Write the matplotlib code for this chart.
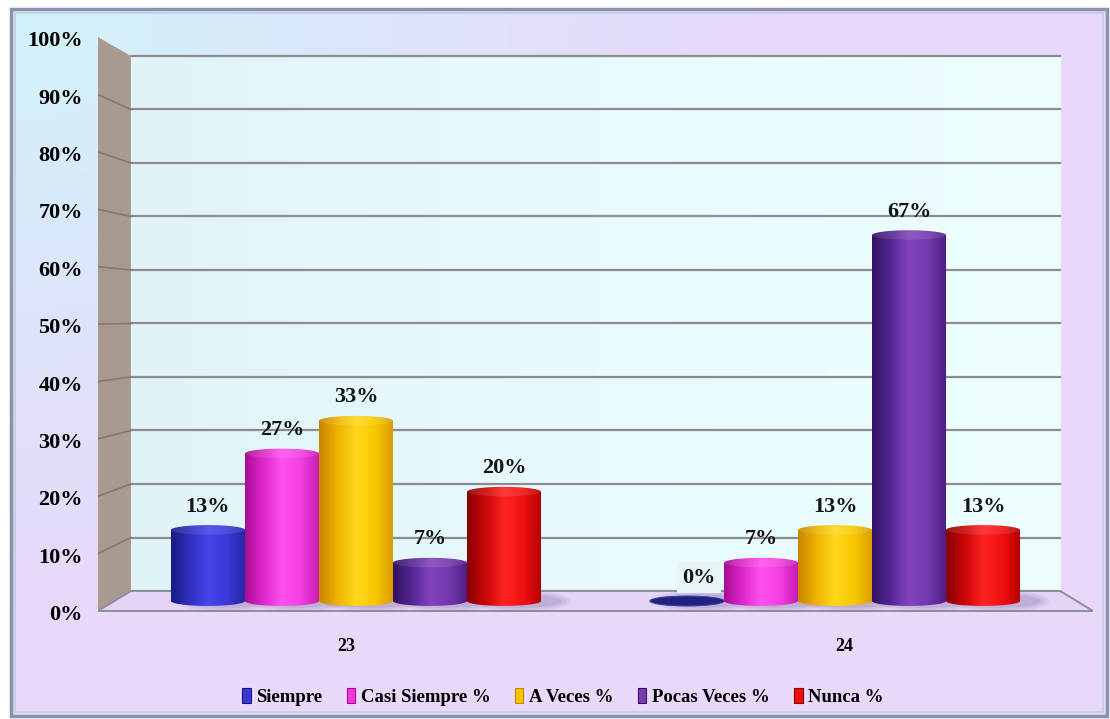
import numpy as np
import matplotlib.pyplot as plt
from matplotlib.colors import LinearSegmentedColormap, to_rgb
from matplotlib.patches import Polygon, Rectangle, Ellipse, PathPatch, Patch
from matplotlib.path import Path

plt.rcParams['font.family'] = ['Liberation Serif', 'DejaVu Serif']

categories = ['23', '24']
series = ['Siempre', 'Casi Siempre %', 'A Veces %', 'Pocas Veces %', 'Nunca %']
values = [
    [13, 0],    # Siempre
    [27, 7],    # Casi Siempre %
    [33, 13],   # A Veces %
    [7, 67],    # Pocas Veces %
    [20, 13],   # Nunca %
]
yticks = list(range(0, 101, 10))

# sombreado de cada cilindro, de izquierda a derecha
shades = [
    ['#1a1a86', '#2f2fbf', '#4545ea', '#3a3ad8', '#2525a4'],
    ['#a80c94', '#e028cc', '#ff52ee', '#f43ee2', '#c41aae'],
    ['#c98400', '#eeb400', '#ffd81c', '#f8c800', '#d99c00'],
    ['#341262', '#542692', '#8244bc', '#7438ac', '#4c1c82'],
    ['#880000', '#cc0606', '#ff2222', '#f21010', '#b20000'],
]
legend_fc = ['#3a3ad0', '#ee3ada', '#f4c800', '#7a3ab0', '#ee1010']

W, H = 1110, 719
fig = plt.figure(figsize=(W / 100, H / 100), dpi=100)
fig.patch.set_facecolor('white')

# fondo con degradado
bg = fig.add_axes([0, 0, 1, 1], zorder=-10)
bg.set_xlim(0, W)
bg.set_ylim(H, 0)
bg.axis('off')
yy, xx = np.mgrid[0:1:200j, 0:1:300j]
d = np.clip(np.sqrt((xx / 0.7) ** 2 + (yy / 0.85) ** 2), 0, 1)
c0 = np.array(to_rgb('#d0f4fb'))
c1 = np.array(to_rgb('#e8d8fa'))
img = c0 * (1 - d[..., None] ** 0.9) + c1 * d[..., None] ** 0.9
bg.imshow(img, extent=[11, 1107, 716, 9], aspect='auto', zorder=0)
bg.add_patch(Rectangle((11, 9), 1096, 707, fill=False, ec='#8a92b0', lw=2.5, zorder=2))
bg.add_patch(Rectangle((15, 13), 1088, 699, fill=False, ec='#c4cce4', lw=1.2, zorder=2))

ax = fig.add_axes([98 / W, 1 - 620 / H, 995 / W, 590 / H])
ax.set_facecolor('none')
for s in ax.spines.values():
    s.set_visible(False)

# geometria de la caja 3D (pared lateral, pared del fondo, piso)
ub0, ub1 = -0.47, 1.47
uf0, uf1 = -0.5386, 1.5386


def back(v):
    return 1.83 + 0.98 * v


def front(v):
    return -1.83 + 1.051 * v


# pared del fondo
wall = np.linspace(0, 1, 256).reshape(1, -1)
wall_cmap = LinearSegmentedColormap.from_list('wall', ['#e0f4f8', '#e8fafd', '#eefeff'])
ax.imshow(wall, cmap=wall_cmap, extent=[ub0, ub1, back(0), back(100)], aspect='auto', zorder=1)
for v in yticks:
    ax.plot([ub0, ub1], [back(v), back(v)], color='#8c8c8c', lw=1.6, zorder=2)

# pared lateral
ax.add_patch(Polygon([(uf0, front(0)), (ub0, back(0)), (ub0, back(100)), (uf0, front(100))],
                     closed=True, fc='#a89a90', ec='none', zorder=2))
for v in yticks[1:-1]:
    ax.plot([uf0, ub0], [front(v), back(v)], color='#85786f', lw=1.2, zorder=3)

# piso
ax.add_patch(Polygon([(uf0, front(0)), (ub0, back(0)), (ub1, back(0)), (uf1, front(0))],
                     closed=True, fc='#e4d4f6', ec='#8e8e9c', lw=1.4, zorder=3))

bw = 0.1545
eh = 1.8  # alto de la elipse del cilindro
t = np.linspace(0, np.pi, 40)

for j, cat in enumerate(categories):
    for k, name in enumerate(series):
        val = values[k][j]
        xc = j + (k - 2) * bw
        x0, x1 = xc - bw / 2, xc + bw / 2
        cmap = LinearSegmentedColormap.from_list(name, shades[k])

        # sombra suave a la derecha de la base
        for i, a in enumerate([0.10, 0.12, 0.16]):
            sc = 1.35 - 0.12 * i
            ax.add_patch(Ellipse((xc + 0.035, 0.0), bw * sc, eh * (2.2 - 0.4 * i),
                                 fc='#7a6a9c', ec='none', alpha=a, zorder=4))

        if val == 0:
            ax.add_patch(Ellipse((xc, 0), bw, eh, fc='#22227c', ec='#3a3ab0', lw=0.8, zorder=5))
        else:
            # silueta del cilindro
            bot_x = xc - (bw / 2) * np.cos(t)
            bot_y = -(eh / 2) * np.sin(t)
            top_x = xc + (bw / 2) * np.cos(t)
            top_y = val + (eh / 2) * np.sin(t)
            verts = ([(x0, val)] + list(zip(bot_x, bot_y)) + list(zip(top_x, top_y)) + [(x0, val)])
            path = Path(verts, closed=True)
            clip = PathPatch(path, fc='none', ec='none', transform=ax.transData)
            ax.add_patch(clip)
            grad = np.linspace(0, 1, 256).reshape(1, -1)
            im = ax.imshow(grad, cmap=cmap, extent=[x0, x1, -eh, val + eh],
                           aspect='auto', zorder=5, interpolation='bicubic')
            im.set_clip_path(clip)
            ax.add_patch(Ellipse((xc, val), bw * 0.98, eh * 0.95, fc='white', ec='none',
                                 alpha=0.10, zorder=6))

        lab_kw = dict(ha='center', va='center', fontsize=16, fontweight='bold', color='#141414', zorder=8)
        lx = xc
        if val == 0:
            lab_kw['bbox'] = dict(boxstyle='square,pad=0.25', fc='#e6f4f8', ec='none')
            lx = xc + 0.025
        ax.text(lx, val + 4.3, f'{val}%', **lab_kw)

ax.set_xlim(uf0, uf1)
ax.set_ylim(-3.48, 104.58)

ax.set_yticks([front(v) - 0.3 for v in yticks])
ax.set_yticklabels([f'{v}%' for v in yticks], fontsize=16, fontweight='bold')
ax.set_xticks([0.5 + 1.04 * (j - 0.5) for j in range(len(categories))])
ax.set_xticklabels(categories, fontsize=13, fontweight='bold')
ax.tick_params(axis='y', length=0, pad=11)
ax.tick_params(axis='x', length=0, pad=13)

handles = [Patch(fc=legend_fc[k], ec=shades[k][0], lw=0.8, label=series[k]) for k in range(len(series))]
fig.legend(handles=handles, loc='center', bbox_to_anchor=(563 / W, 1 - 697 / H), ncol=5,
           frameon=False, prop={'weight': 'bold', 'size': 13.5}, handlelength=0.45,
           handleheight=0.8, handletextpad=0.3, columnspacing=1.3)

fig.savefig('out.png', dpi=100)
